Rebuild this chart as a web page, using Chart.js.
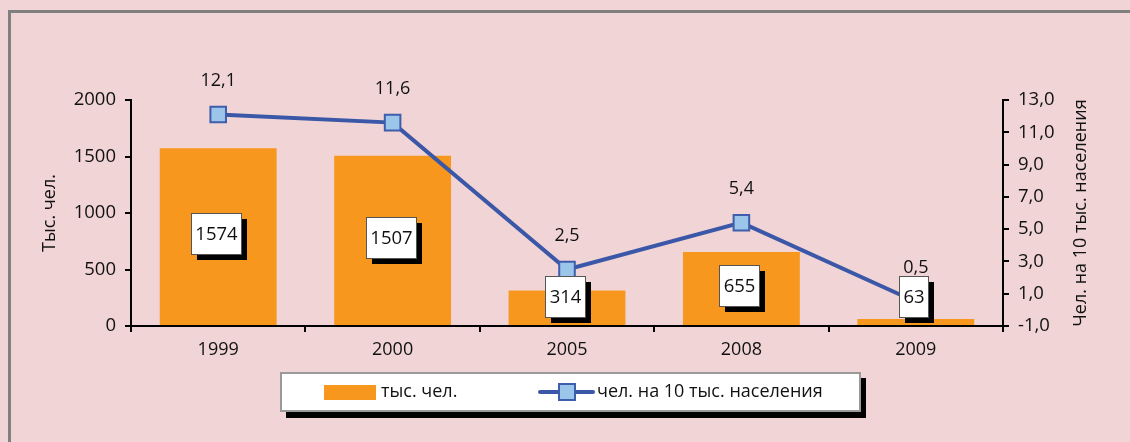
<!DOCTYPE html>
<html>
<head>
<meta charset="utf-8">
<script src="https://cdn.jsdelivr.net/npm/chart.js@4/dist/chart.umd.min.js"></script>
<style>
  html, body { margin: 0; padding: 0; background: #f0d4d6; }
  #wrap { width: 1130px; height: 442px; }
</style>
</head>
<body>
<div id="wrap"><canvas id="grafico" width="1130" height="442"></canvas></div>
<script>
// datos
const anios = ['1999', '2000', '2005', '2008', '2009'];
const tysChel = [1574, 1507, 314, 655, 63];
const naDesyat = [12.1, 11.6, 2.5, 5.4, 0.5];
const ticksIzq = [0, 500, 1000, 1500, 2000];
const ticksDer = [-1, 1, 3, 5, 7, 9, 11, 13];

const fuente = '"Open Sans", "Noto Sans", sans-serif';
const naranja = '#f7971e';
const azul = '#3b57a7';
const coma = v => v.toFixed(1).replace('.', ',');

// fondo y marco
const fondo = {
  id: 'fondo',
  beforeDraw(chart) {
    const ctx = chart.ctx;
    ctx.save();
    ctx.fillStyle = '#f0d4d6';
    ctx.fillRect(0, 0, chart.width, chart.height);
    ctx.strokeStyle = '#808080';
    ctx.lineWidth = 3;
    ctx.strokeRect(9.5, 11.5, 1200, 600);
    ctx.restore();
  }
};

// etiquetas de valores
const etiquetas = {
  id: 'etiquetas',
  afterDatasetsDraw(chart) {
    const ctx = chart.ctx;
    ctx.save();
    ctx.textAlign = 'center';
    ctx.textBaseline = 'middle';

    // valores de la linea
    ctx.font = '18px ' + fuente;
    const metaLinea = chart.getDatasetMeta(0);
    metaLinea.data.forEach((p, i) => {
      ctx.fillStyle = '#111';
      ctx.fillText(coma(naDesyat[i]), p.x, p.y - 34);
    });

    // cajas de las barras
    ctx.font = '18.5px ' + fuente;
    const metaBarra = chart.getDatasetMeta(1);
    metaBarra.data.forEach((b, i) => {
      const txt = String(tysChel[i]);
      const w = Math.round(ctx.measureText(txt).width + 8);
      const h = 41;
      const cx = b.x - 2;
      const cy = Math.min((b.y + b.base) / 2 - 3, 296);
      const x0 = Math.round(cx - w / 2), y0 = Math.round(cy - h / 2);
      ctx.fillStyle = '#000';
      ctx.fillRect(x0 + 6, y0 + 6, w, h);
      ctx.fillStyle = '#fff';
      ctx.fillRect(x0, y0, w, h);
      ctx.strokeStyle = '#555';
      ctx.lineWidth = 1;
      ctx.strokeRect(x0 + 0.5, y0 + 0.5, w, h);
      ctx.fillStyle = '#111';
      ctx.fillText(txt, x0 + w / 2 + 0.5, y0 + h / 2 + 1);
    });
    ctx.restore();
  },
  afterDraw(chart) {
    const ctx = chart.ctx;
    ctx.save();
    // titulo eje derecho
    ctx.font = '18px ' + fuente;
    ctx.fillStyle = '#111';
    ctx.textAlign = 'center';
    ctx.textBaseline = 'middle';
    ctx.translate(1081, 213);
    ctx.rotate(-Math.PI / 2);
    ctx.fillText('Чел. на 10 тыс. населения', 0, 0);
    ctx.restore();

    // leyenda
    ctx.save();
    ctx.fillStyle = '#000';
    ctx.fillRect(286, 378, 580, 40);
    ctx.fillStyle = '#fff';
    ctx.fillRect(280, 372, 581, 40);
    ctx.strokeStyle = '#9a9a9a';
    ctx.lineWidth = 2;
    ctx.strokeRect(281, 373, 579, 38);
    ctx.fillStyle = naranja;
    ctx.fillRect(324, 385, 52, 15);
    ctx.font = '18px ' + fuente;
    ctx.fillStyle = '#111';
    ctx.textBaseline = 'middle';
    ctx.fillText(chart.data.datasets[1].label, 381, 392);
    ctx.strokeStyle = azul;
    ctx.lineWidth = 4;
    ctx.lineCap = 'round';
    ctx.beginPath();
    ctx.moveTo(540, 392);
    ctx.lineTo(593, 392);
    ctx.stroke();
    ctx.fillStyle = '#9cc5ea';
    ctx.strokeStyle = '#3e5eac';
    ctx.lineWidth = 2;
    ctx.fillRect(559, 384, 16, 16);
    ctx.strokeRect(559, 384, 16, 16);
    ctx.fillStyle = '#111';
    ctx.fillText(chart.data.datasets[0].label, 597, 392);
    ctx.restore();
  }
};

new Chart(document.getElementById('grafico'), {
  data: {
    labels: anios,
    datasets: [
      {
        type: 'line',
        label: 'чел. на 10 тыс. населения',
        data: naDesyat,
        yAxisID: 'y1',
        borderColor: azul,
        borderWidth: 4,
        pointStyle: 'rect',
        pointRadius: 11,
        pointBackgroundColor: '#9cc5ea',
        pointBorderColor: '#3e5eac',
        pointBorderWidth: 2,
        tension: 0,
        order: 0
      },
      {
        type: 'bar',
        label: 'тыс. чел.',
        data: tysChel,
        yAxisID: 'y',
        backgroundColor: naranja,
        barPercentage: 0.67,
        categoryPercentage: 1,
        order: 1
      }
    ]
  },
  options: {
    responsive: false,
    animation: false,
    layout: { padding: { top: 100, left: 0, right: 0, bottom: 0 } },
    plugins: {
      legend: { display: false },
      tooltip: { enabled: false }
    },
    scales: {
      x: {
        offset: true,
        grid: { offset: true, drawOnChartArea: false, drawTicks: true, tickLength: 6, color: '#000', lineWidth: 2 },
        border: { display: true, color: '#000', width: 2 },
        ticks: { color: '#111', font: { family: fuente, size: 18 }, padding: 7 },
        afterFit(s) { s.height = 116; }
      },
      y: {
        position: 'left',
        min: 0, max: 2000,
        afterBuildTicks(s) { s.ticks = ticksIzq.map(v => ({ value: v })); },
        grid: { drawOnChartArea: false, drawTicks: true, tickLength: 6, color: '#000', lineWidth: 2 },
        border: { display: true, color: '#000', width: 2 },
        ticks: { color: '#111', font: { family: fuente, size: 18.5 }, padding: 9, callback: v => String(v) },
        title: { display: true, text: 'Тыс. чел.', color: '#111', font: { family: fuente, size: 18 }, padding: { top: 39, bottom: 0 } },
        afterFit(s) { s.width = 131; }
      },
      y1: {
        position: 'right',
        min: -1, max: 13,
        afterBuildTicks(s) { s.ticks = ticksDer.map(v => ({ value: v })); },
        grid: { drawOnChartArea: false, drawTicks: true, tickLength: 6, color: '#000', lineWidth: 2 },
        border: { display: true, color: '#000', width: 2 },
        ticks: { color: '#111', font: { family: fuente, size: 18.5 }, padding: 9, callback: v => coma(v) },
        afterFit(s) { s.width = 127; }
      }
    }
  },
  plugins: [fondo, etiquetas]
});
</script>
</body>
</html>
